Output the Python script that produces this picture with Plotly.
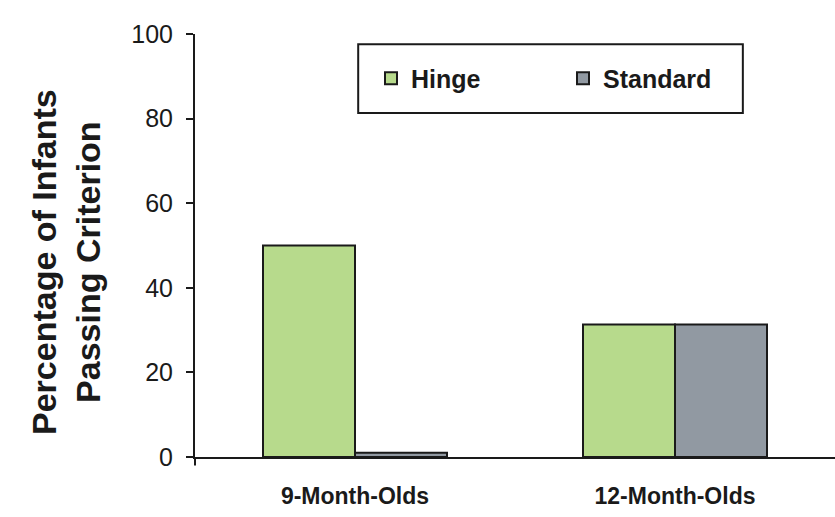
import plotly.graph_objects as go

categories = ["9-Month-Olds", "12-Month-Olds"]
hinge = [50, 31.3]
standard = [1, 31.3]
y_ticks = [0, 20, 40, 60, 80, 100]

fig = go.Figure()
fig.add_bar(x=categories, y=hinge, name="Hinge",
            marker=dict(color="#b7da8c", line=dict(color="#1a1a1a", width=2)))
fig.add_bar(x=categories, y=standard, name="Standard",
            marker=dict(color="#9199a2", line=dict(color="#1a1a1a", width=2)))

fig.update_layout(
    width=835, height=517,
    margin=dict(l=195, r=0, t=34, b=60),
    paper_bgcolor="white", plot_bgcolor="white",
    barmode="group", bargap=0.425, bargroupgap=0,
    font=dict(family="Arial, Liberation Sans, sans-serif", color="#1a1a1a"),
    showlegend=True,
    legend=dict(orientation="h", x=0.275, y=0.895, xanchor="left", yanchor="middle",
                bgcolor="rgba(0,0,0,0)", borderwidth=0,
                font=dict(size=25, family="Arial, Liberation Sans, sans-serif", weight="bold"),
                entrywidth=147, itemwidth=30, traceorder="normal"),
    shapes=[
        dict(type="rect", xref="paper", yref="paper", x0=0.255, x1=0.856, y0=0.813, y1=0.976,
             line=dict(color="#1a1a1a", width=2), fillcolor="rgba(0,0,0,0)", layer="below"),
        dict(type="line", xref="paper", yref="paper", x0=0, x1=0, y0=0, y1=-0.02,
             line=dict(color="#1a1a1a", width=2)),
    ],
    annotations=[
        dict(text="Percentage of Infants<br>Passing Criterion", textangle=-90,
             xref="paper", yref="paper", x=(66 - 195) / 640, y=1 - (262 - 34) / 423,
             xanchor="center", yanchor="middle", showarrow=False,
             font=dict(size=34, weight="bold")),
    ],
)
fig.update_xaxes(showline=True, linecolor="#1a1a1a", linewidth=2, ticks="",
                 tickfont=dict(size=23, weight="bold"), ticklabelstandoff=17,
                 showgrid=False, zeroline=False)
fig.update_yaxes(range=[0, 100], tickvals=y_ticks, showline=True, linecolor="#1a1a1a", linewidth=2,
                 ticks="outside", ticklen=7, tickwidth=2, tickcolor="#1a1a1a",
                 tickfont=dict(size=25), ticklabelstandoff=8,
                 showgrid=False, zeroline=False)

fig.write_html("out.html", config={"displayModeBar": False},
               post_script="document.body.style.margin='0';")
